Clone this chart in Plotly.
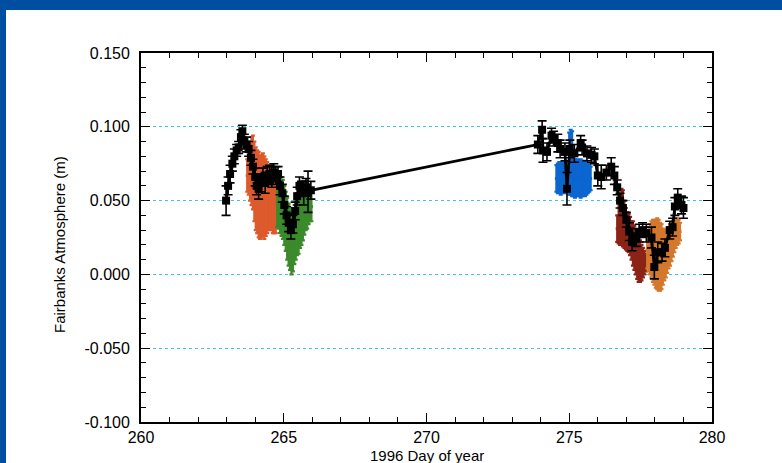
import plotly.graph_objects as go

# ---- Fairbanks atmospheric delay, 1996 day of year ----
# black: averaged solution with 1-sigma errors
day_avg = [262.98, 263.05, 263.12, 263.20, 263.27, 263.35, 263.42, 263.50, 263.55, 263.62,
           263.70, 263.77, 263.85, 263.92, 264.00, 264.05, 264.12, 264.20, 264.27, 264.35,
           264.42, 264.50, 264.58, 264.65, 264.72, 264.80, 264.87, 264.95, 265.02, 265.10,
           265.17, 265.25, 265.32, 265.40, 265.47, 265.55, 265.62, 265.70, 265.78, 265.85,
           265.95,
           273.90, 274.05, 274.08, 274.22, 274.38, 274.45, 274.60, 274.68, 274.85, 274.92,
           275.02, 275.18, 275.40, 275.45, 275.62, 275.78, 275.88, 276.00, 276.12, 276.30,
           276.47, 276.58, 276.68, 276.78, 276.88, 277.00, 277.10, 277.20, 277.35, 277.45,
           277.57, 277.70, 277.88, 277.98, 278.10, 278.25, 278.35, 278.52, 278.62, 278.70,
           278.80, 278.93, 279.00]
atm_avg = [0.050, 0.060, 0.068, 0.075, 0.080, 0.084, 0.086, 0.093, 0.097, 0.090,
           0.088, 0.085, 0.079, 0.073, 0.066, 0.060, 0.058, 0.062, 0.066, 0.062,
           0.067, 0.068, 0.066, 0.069, 0.067, 0.068, 0.060, 0.055, 0.047, 0.040,
           0.035, 0.030, 0.034, 0.043, 0.053, 0.060, 0.058, 0.055, 0.059, 0.056,
           0.057,
           0.088, 0.098, 0.084, 0.083, 0.094, 0.092, 0.089, 0.085, 0.083, 0.058,
           0.085, 0.082, 0.089, 0.086, 0.082, 0.081, 0.080, 0.067, 0.066, 0.069,
           0.073, 0.067, 0.059, 0.050, 0.045, 0.037, 0.029, 0.022, 0.025, 0.028,
           0.030, 0.028, 0.025, 0.005, 0.015, 0.015, 0.018, 0.030, 0.032, 0.046,
           0.052, 0.047, 0.045]
err_avg = [0.010, 0.006, 0.006, 0.005, 0.005, 0.004, 0.004, 0.005, 0.004, 0.005,
           0.005, 0.005, 0.005, 0.005, 0.006, 0.006, 0.007, 0.006, 0.006, 0.007,
           0.006, 0.006, 0.007, 0.006, 0.006, 0.005, 0.006, 0.006, 0.006, 0.006,
           0.006, 0.006, 0.006, 0.006, 0.006, 0.006, 0.005, 0.008, 0.006, 0.014,
           0.006,
           0.006, 0.006, 0.008, 0.006, 0.005, 0.005, 0.006, 0.006, 0.006, 0.011,
           0.006, 0.006, 0.005, 0.005, 0.005, 0.005, 0.005, 0.007, 0.008, 0.005,
           0.006, 0.006, 0.005, 0.005, 0.005, 0.005, 0.006, 0.006, 0.006, 0.006,
           0.005, 0.006, 0.007, 0.008, 0.007, 0.006, 0.006, 0.006, 0.006, 0.006,
           0.006, 0.006, 0.007]

# orange-red session
day_s1 = [263.72, 263.77, 263.82, 263.87, 263.92, 263.97, 264.02, 264.07, 264.12, 264.17, 264.22,
          264.27, 264.32, 264.37, 264.42, 264.47, 264.52, 264.57, 264.62, 264.67, 264.72, 264.77]
atm_s1 = [0.067, 0.068, 0.069, 0.070, 0.069, 0.063, 0.058, 0.056, 0.054, 0.052, 0.053,
          0.054, 0.052, 0.052, 0.052, 0.052, 0.052, 0.052, 0.050, 0.049, 0.048, 0.049]
err_s1 = [0.011, 0.014, 0.019, 0.023, 0.025, 0.027, 0.028, 0.028, 0.029, 0.028, 0.028,
          0.028, 0.028, 0.026, 0.024, 0.022, 0.021, 0.022, 0.022, 0.021, 0.020, 0.017]

# green session
day_s2 = [264.77, 264.82, 264.87, 264.92, 264.97, 265.02, 265.07, 265.12, 265.17, 265.22, 265.27,
          265.32, 265.37, 265.42, 265.47, 265.52, 265.57, 265.62, 265.67, 265.72, 265.77, 265.82,
          265.87, 265.92, 265.97]
atm_s2 = [0.048, 0.048, 0.047, 0.046, 0.044, 0.040, 0.036, 0.031, 0.027, 0.024, 0.021,
          0.021, 0.026, 0.030, 0.034, 0.036, 0.039, 0.041, 0.043, 0.045, 0.046, 0.046,
          0.047, 0.047, 0.046]
err_s2 = [0.016, 0.017, 0.019, 0.020, 0.020, 0.020, 0.020, 0.021, 0.021, 0.021, 0.021,
          0.019, 0.019, 0.020, 0.021, 0.022, 0.021, 0.021, 0.020, 0.018, 0.016, 0.015,
          0.013, 0.011, 0.010]

# blue session
day_s3 = [274.55, 274.60, 274.65, 274.70, 274.75, 274.80, 274.85, 274.90, 274.95, 275.00, 275.05,
          275.10, 275.15, 275.20, 275.25, 275.30, 275.35, 275.40, 275.45, 275.50, 275.55, 275.60,
          275.65, 275.70, 275.75]
atm_s3 = [0.065, 0.065, 0.066, 0.065, 0.065, 0.066, 0.065, 0.066, 0.065, 0.075, 0.076,
          0.075, 0.067, 0.065, 0.065, 0.066, 0.065, 0.065, 0.065, 0.065, 0.065, 0.065,
          0.065, 0.065, 0.065]
err_s3 = [0.009, 0.010, 0.010, 0.011, 0.010, 0.010, 0.010, 0.010, 0.009, 0.021, 0.022,
          0.022, 0.014, 0.013, 0.012, 0.012, 0.012, 0.013, 0.012, 0.011, 0.012, 0.011,
          0.010, 0.009, 0.008]

# dark-red session
day_s4 = [276.68, 276.73, 276.78, 276.83, 276.88, 276.93, 276.98, 277.03, 277.08, 277.13, 277.18,
          277.23, 277.28, 277.33, 277.38, 277.43, 277.48, 277.53, 277.58, 277.63, 277.68]
atm_s4 = [0.031, 0.035, 0.037, 0.039, 0.038, 0.034, 0.031, 0.029, 0.028, 0.026, 0.023,
          0.021, 0.018, 0.015, 0.012, 0.010, 0.009, 0.008, 0.008, 0.008, 0.008]
err_s4 = [0.009, 0.014, 0.017, 0.019, 0.019, 0.016, 0.014, 0.013, 0.013, 0.013, 0.013,
          0.015, 0.015, 0.015, 0.015, 0.015, 0.014, 0.012, 0.010, 0.008, 0.006]

# orange session
day_s5 = [277.73, 277.78, 277.83, 277.88, 277.93, 277.98, 278.03, 278.08, 278.13, 278.18, 278.23,
          278.28, 278.33, 278.38, 278.43, 278.48, 278.53, 278.58, 278.63, 278.68, 278.73, 278.78,
          278.83, 278.88]
atm_s5 = [0.017, 0.017, 0.017, 0.017, 0.016, 0.015, 0.014, 0.014, 0.013, 0.012, 0.012,
          0.012, 0.013, 0.014, 0.016, 0.018, 0.020, 0.022, 0.024, 0.026, 0.028, 0.029,
          0.029, 0.029]
err_s5 = [0.013, 0.015, 0.017, 0.019, 0.021, 0.022, 0.023, 0.024, 0.024, 0.023, 0.022,
          0.019, 0.017, 0.016, 0.015, 0.014, 0.014, 0.013, 0.012, 0.011, 0.010, 0.009,
          0.008, 0.006]

# axis tick labels
y_tick_vals = [-0.100, -0.050, 0.000, 0.050, 0.100, 0.150]
y_tick_text = ["-0.100", "-0.050", "0.000", "0.050", "0.100", "0.150"]

sessions = [
    (day_s1, atm_s1, err_s1, "#dc5a2c"),
    (day_s2, atm_s2, err_s2, "#3b8a2c"),
    (day_s3, atm_s3, err_s3, "#0b66d0"),
    (day_s4, atm_s4, err_s4, "#8b2416"),
    (day_s5, atm_s5, err_s5, "#d4782e"),
]

FONT = "Liberation Sans, Arial, Helvetica, sans-serif"

fig = go.Figure()

for d, a, e, c in sessions:
    fig.add_trace(go.Scatter(
        x=d, y=a, mode="markers",
        marker=dict(symbol="square", size=3, color=c),
        error_y=dict(type="data", array=e, visible=True, color=c, thickness=2.2, width=2),
        showlegend=False, hoverinfo="skip",
    ))

fig.add_trace(go.Scatter(
    x=day_avg, y=atm_avg, mode="lines+markers",
    line=dict(color="black", width=2.8),
    marker=dict(symbol="square", size=8, color="black"),
    error_y=dict(type="data", array=err_avg, visible=True, color="black", thickness=1.6, width=4.5),
    showlegend=False,
))

fig.update_xaxes(
    range=[260, 280], tickmode="linear", tick0=260, dtick=5,
    ticks="inside", ticklen=9, tickwidth=1.3, tickcolor="black",
    minor=dict(dtick=1, ticks="inside", ticklen=5, tickwidth=1.2, tickcolor="black", showgrid=False),
    showline=True, linecolor="black", linewidth=1.8, mirror="ticks",
    showgrid=False, zeroline=False,
    tickfont=dict(family=FONT, size=16, color="black"),
)
fig.update_yaxes(
    range=[-0.1, 0.15], tickmode="array", tickvals=y_tick_vals, ticktext=y_tick_text,
    ticks="inside", ticklen=9, tickwidth=1.3, tickcolor="black",
    minor=dict(tick0=-0.1, dtick=0.01, ticks="inside", ticklen=5, tickwidth=1.2,
               tickcolor="black", showgrid=False),
    showline=True, linecolor="black", linewidth=1.8, mirror="ticks",
    showgrid=True, gridcolor="#3fc4ea", gridwidth=1, griddash="dot",
    zeroline=False, ticklabelstandoff=6,
    tickfont=dict(family=FONT, size=16, color="black"),
)

FRAME = "#004ea2"
fig.update_layout(
    width=782, height=463,
    margin=dict(l=141, r=70, t=53, b=41),
    paper_bgcolor="white", plot_bgcolor="white",
    shapes=[
        dict(type="rect", xref="paper", yref="paper", x0=-0.26, x1=1.13,
             y0=(422 - 10) / 369, y1=1.16, fillcolor=FRAME, line_width=0, layer="above"),
        dict(type="rect", xref="paper", yref="paper", x0=-0.26, x1=(6 - 141) / 571,
             y0=-0.12, y1=1.16, fillcolor=FRAME, line_width=0, layer="above"),
    ],
    annotations=[
        dict(text="1996 Day of year", x=270, xref="x", y=(422 - 455) / 369, yref="paper",
             xanchor="center", yanchor="middle", showarrow=False,
             font=dict(family=FONT, size=15, color="black")),
        dict(text="Fairbanks Atmosphere (m)", x=(60 - 141) / 571, xref="paper",
             y=(422 - 245) / 369, yref="paper", textangle=-90,
             xanchor="center", yanchor="middle", showarrow=False,
             font=dict(family=FONT, size=15, color="black")),
    ],
)

fig.write_html("out.html")
